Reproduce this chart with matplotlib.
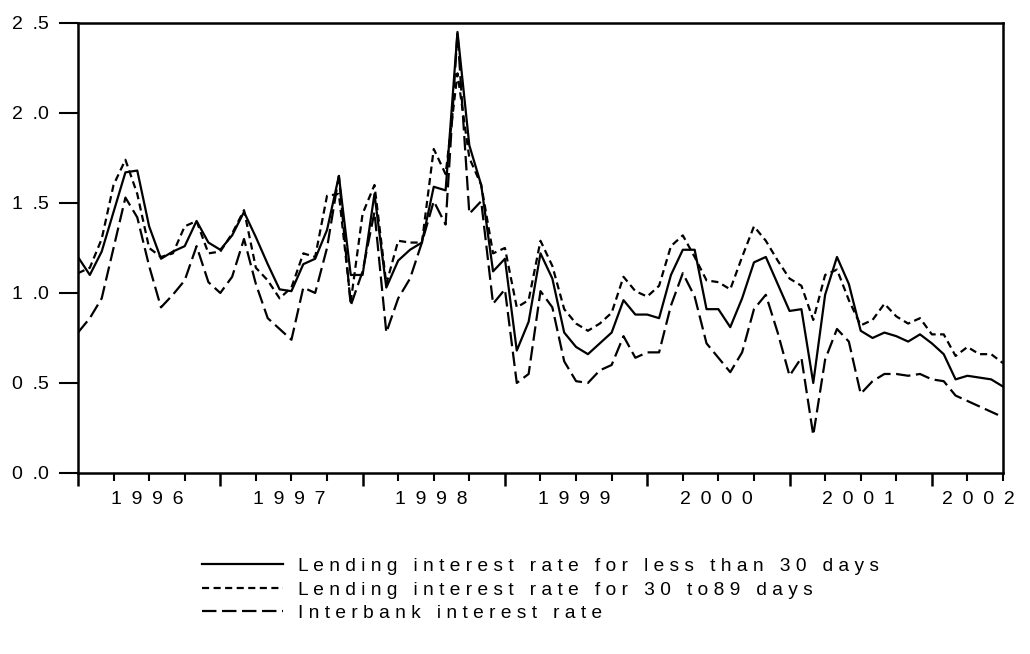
import matplotlib
matplotlib.use("Agg")
import matplotlib.pyplot as plt
import matplotlib.transforms as mtransforms
import numpy as np

plt.rcParams['font.family'] = ['Liberation Sans', 'DejaVu Sans']

# monthly observations, 1996M01 .. 2002M07
lend_short = [1.20, 1.10, 1.23, 1.45, 1.67, 1.68, 1.37, 1.19, 1.23, 1.26, 1.40, 1.28,
              1.24, 1.32, 1.45, 1.31, 1.16, 1.02, 1.01, 1.16, 1.19, 1.35, 1.65, 1.10,
              1.10, 1.55, 1.03, 1.18, 1.24, 1.28, 1.59, 1.57, 2.45, 1.82, 1.60, 1.12,
              1.19, 0.68, 0.84, 1.22, 1.08, 0.78, 0.70, 0.66, 0.72, 0.78, 0.96, 0.88,
              0.88, 0.86, 1.10, 1.24, 1.24, 0.91, 0.91, 0.81, 0.97, 1.17, 1.20, 1.05,
              0.90, 0.91, 0.50, 0.99, 1.20, 1.05, 0.79, 0.75, 0.78, 0.76, 0.73, 0.77,
              0.72, 0.66, 0.52, 0.54, 0.53, 0.52, 0.48]
lend_30_89 = [1.11, 1.14, 1.30, 1.60, 1.74, 1.55, 1.25, 1.20, 1.22, 1.37, 1.40, 1.22,
              1.23, 1.33, 1.46, 1.14, 1.07, 0.97, 1.03, 1.22, 1.20, 1.54, 1.55, 0.95,
              1.44, 1.60, 1.05, 1.29, 1.28, 1.28, 1.80, 1.66, 2.22, 1.75, 1.60, 1.22,
              1.25, 0.92, 0.96, 1.29, 1.15, 0.91, 0.83, 0.79, 0.83, 0.89, 1.09, 1.01,
              0.98, 1.04, 1.26, 1.32, 1.20, 1.07, 1.06, 1.02, 1.20, 1.37, 1.29, 1.18,
              1.08, 1.04, 0.85, 1.10, 1.13, 0.96, 0.82, 0.85, 0.94, 0.87, 0.83, 0.86,
              0.77, 0.77, 0.65, 0.70, 0.66, 0.66, 0.61]
interbank = [0.78, 0.86, 0.97, 1.25, 1.53, 1.42, 1.15, 0.92, 0.99, 1.07, 1.26, 1.06,
             1.00, 1.09, 1.30, 1.05, 0.86, 0.80, 0.74, 1.03, 1.00, 1.25, 1.65, 0.93,
             1.12, 1.45, 0.78, 0.97, 1.08, 1.28, 1.51, 1.38, 2.45, 1.44, 1.51, 0.94,
             1.02, 0.50, 0.55, 1.01, 0.92, 0.62, 0.51, 0.50, 0.57, 0.60, 0.76, 0.64,
             0.67, 0.67, 0.93, 1.11, 0.98, 0.72, 0.64, 0.56, 0.67, 0.91, 0.99, 0.78,
             0.54, 0.64, 0.21, 0.63, 0.80, 0.73, 0.44, 0.51, 0.55, 0.55, 0.54, 0.55,
             0.52, 0.51, 0.43, 0.40, 0.37, 0.34, 0.31]
years = [1996, 1997, 1998, 1999, 2000, 2001, 2002]
labels = ["Lending interest rate for less than 30 days",
          "Lending interest rate for 30 to89 days",
          "Interbank interest rate"]


def spaced(s, gap=' '):
    return gap.join(s)


t = np.arange(len(lend_short))

fig = plt.figure(figsize=(10.30, 6.54), dpi=100)
ax = fig.add_axes([0.0757, 0.2768, 0.8981, 0.6881])

lw = 1.6
ax.plot(t, lend_short, color='black', lw=lw, label=spaced(labels[0]))
ax.plot(t, lend_30_89, color='black', lw=lw, dashes=(3.2, 2.0), label=spaced(labels[1]))
ax.plot(t, interbank, color='black', lw=lw, dashes=(6.5, 2.5), label=spaced(labels[2]))

ax.set_xlim(0, len(t) - 1)
ax.set_ylim(0, 2.5)

for s in ax.spines.values():
    s.set_linewidth(1.8)

yt = np.arange(0, 2.51, 0.5)
ax.set_yticks(yt)
ax.set_yticklabels([f"{v:.1f}".replace('.', '\u2002.') for v in yt], fontsize=14)
ax.tick_params(axis='y', direction='out', length=14, width=1.5, pad=7)

# year boundaries as major ticks, quarters as minor ones
ax.set_xticks(np.arange(0, len(t), 12))
ax.set_xticks(np.arange(0, len(t), 3), minor=True)
ax.set_xticklabels([])
ax.tick_params(axis='x', which='major', direction='out', length=9, width=1.8)
ax.tick_params(axis='x', which='minor', direction='out', length=6, width=1.5)

trans = mtransforms.blended_transform_factory(ax.transData, ax.transAxes)
for k, yr in enumerate(years):
    xpos = 12 * k + 5.8 if yr != 2002 else 12 * k + 3.9
    ax.text(xpos, -0.058, spaced(str(yr), '\u2002'), transform=trans,
            ha='center', va='center', fontsize=14)

fig.legend(loc='upper left', bbox_to_anchor=(0.187, 0.162), frameon=False,
           fontsize=13.8, handlelength=4.2, handletextpad=0.8, labelspacing=0.32,
           borderpad=0)

fig.savefig("out.png", dpi=100)
